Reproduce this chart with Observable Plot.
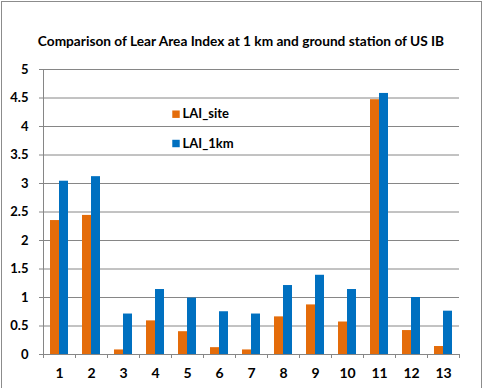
<!DOCTYPE html>
<html><head><meta charset="utf-8">
<script src="https://cdn.jsdelivr.net/npm/d3@7"></script>
<script src="https://cdn.jsdelivr.net/npm/@observablehq/plot@0.6"></script>
<style>
body{margin:0;background:#fff;}
#wrap{position:relative;width:482px;height:388px;overflow:hidden;}
#border{position:absolute;left:1px;top:1px;width:481px;height:400px;border:1px solid #8c8c8c;box-sizing:border-box;pointer-events:none;}
svg{display:block;}
</style></head><body><div id="wrap"><div id="border"></div></div>
<script>
const title = "Comparison of Lear Area Index at 1 km and ground station of US IB";
const categories = [1, 2, 3, 4, 5, 6, 7, 8, 9, 10, 11, 12, 13];
const laiSite = [2.35, 2.44, 0.08, 0.59, 0.40, 0.12, 0.08, 0.66, 0.87, 0.57, 4.47, 0.42, 0.14];
const lai1km  = [3.04, 3.12, 0.71, 1.14, 0.99, 0.75, 0.71, 1.21, 1.39, 1.14, 4.58, 1.00, 0.76];
const seriesNames = ["LAI_site", "LAI_1km"];
const seriesColors = ["#E46C0A", "#0070C0"];
const yTicks = [0, 0.5, 1, 1.5, 2, 2.5, 3, 3.5, 4, 4.5, 5];

const rows = categories.map((c, i) => ({cat: c, site: laiSite[i], km: lai1km[i]}));
const xDomain = [categories[0] - 0.5, categories[categories.length - 1] + 0.5];
const boundaries = [xDomain[0], ...categories.map(c => c + 0.5)];
const grey = "#868686";
const font = "Lato, 'Open Sans', sans-serif";
const legendDy = [44.7, 74];

const legendMarks = seriesNames.flatMap((name, i) => [
  Plot.dot([name], {x: null, y: null, frameAnchor: "top-left", dx: 132.5, dy: legendDy[i], symbol: "square", r: 4.2, fill: seriesColors[i], stroke: null}),
  Plot.text([name], {frameAnchor: "top-left", dx: 139, dy: legendDy[i], textAnchor: "start", lineAnchor: "middle", fontSize: 13, fontWeight: "bold", fill: "#000"})
]);

const chart = Plot.plot({
  width: 482,
  height: 388,
  marginLeft: 43,
  marginRight: 23,
  marginTop: 69,
  marginBottom: 34,
  style: {fontFamily: font, fontWeight: "bold", color: "#000", background: "transparent"},
  x: {domain: xDomain, axis: null},
  y: {domain: [0, 5], axis: null},
  marks: [
    Plot.gridY(yTicks, {stroke: grey, strokeOpacity: 1}),
    Plot.axisY({ticks: yTicks, tickSize: 4, tickPadding: 11, stroke: grey, fontSize: 13, tickFormat: d => String(d)}),
    Plot.ruleX([xDomain[0]], {stroke: grey}),
    Plot.rectY(rows, {x1: d => d.cat - 0.5, x2: d => d.cat + 0.5, y: "site", fill: seriesColors[0], insetLeft: 7, insetRight: 16}),
    Plot.rectY(rows, {x1: d => d.cat - 0.5, x2: d => d.cat + 0.5, y: "km", fill: seriesColors[1], insetLeft: 16, insetRight: 7}),
    Plot.axisX({ticks: boundaries, tickSize: 4, stroke: grey, tickFormat: () => ""}),
    Plot.axisX({ticks: categories, tickSize: 0, tickPadding: 14, fontSize: 14, tickFormat: d => String(d)}),
    Plot.text([title], {frameAnchor: "top", dx: -10.5, dy: -33, fontSize: 13.7, fontWeight: "bold", fill: "#000"}),
    ...legendMarks
  ]
});
document.getElementById("wrap").prepend(chart);
</script>
</body></html>
